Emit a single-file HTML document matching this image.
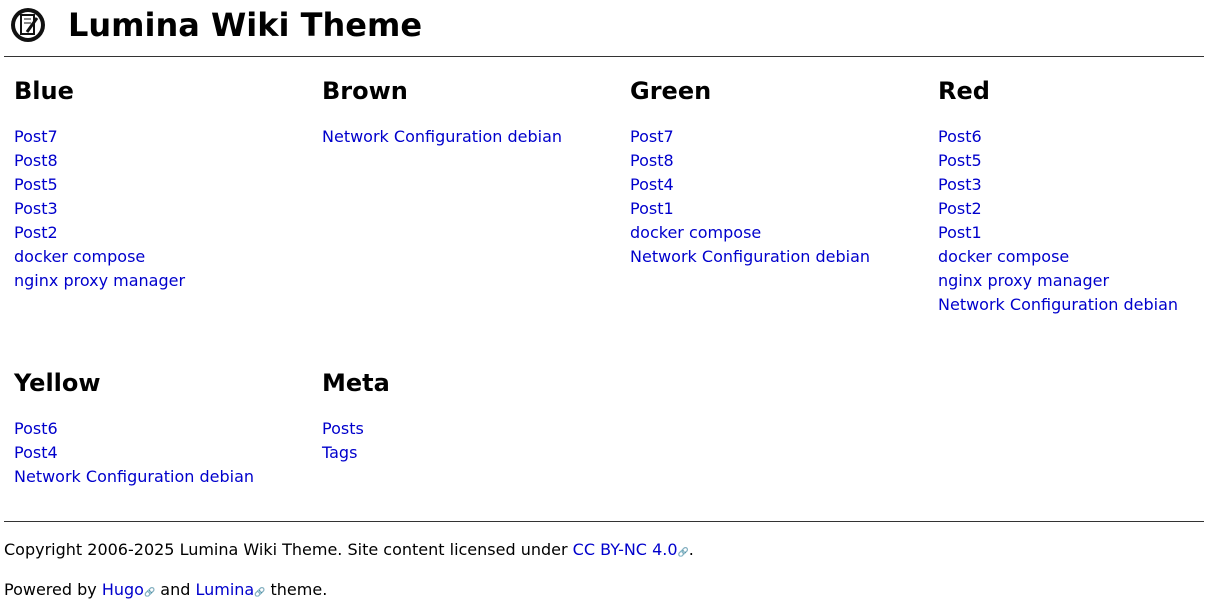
<!DOCTYPE html>
<html><head><meta charset="utf-8"><style>
*{margin:0;padding:0}
body{width:1211px;height:602px;background:#fff;font-family:"DejaVu Sans","Liberation Sans",sans-serif;color:#000;position:relative;overflow:hidden}
.a{position:absolute;white-space:nowrap}
h1{position:absolute;left:68px;top:5px;font-size:32px;font-weight:bold;line-height:40px}
h2{position:absolute;font-size:24px;font-weight:bold;line-height:30px}
.l{position:absolute;font-size:16px;line-height:24px}
a{color:#0000cc;text-decoration:none}
hr{position:absolute;left:4px;width:1200px;border:0;border-top:1px solid #333;height:0}
.f{position:absolute;left:4px;font-size:16px;line-height:20px}
.i{color:#999;font-size:9px}
</style></head><body>
<svg class="a" style="left:9px;top:6px" width="38" height="38" viewBox="0 0 38 38">
<circle cx="19" cy="19" r="17" fill="#111"/><circle cx="19" cy="19" r="13" fill="#fff"/>
<rect x="12" y="9" width="13" height="19" fill="#fff" stroke="#111" stroke-width="2"/>
<line x1="15" y1="13" x2="22" y2="13" stroke="#111"/><line x1="15" y1="17" x2="22" y2="17" stroke="#111"/>
<line x1="18" y1="26" x2="28" y2="12" stroke="#111" stroke-width="3"/>
</svg>
<h1>Lumina Wiki Theme</h1>
<hr style="top:56px">
<h2 style="left:14px;top:76px">Blue</h2>
<h2 style="left:322px;top:76px">Brown</h2>
<h2 style="left:630px;top:76px">Green</h2>
<h2 style="left:938px;top:76px">Red</h2>
<div class="l" style="left:14px;top:125px"><a>Post7</a><br><a>Post8</a><br><a>Post5</a><br><a>Post3</a><br><a>Post2</a><br><a>docker compose</a><br><a>nginx proxy manager</a></div>
<div class="l" style="left:322px;top:125px"><a>Network Configuration debian</a></div>
<div class="l" style="left:630px;top:125px"><a>Post7</a><br><a>Post8</a><br><a>Post4</a><br><a>Post1</a><br><a>docker compose</a><br><a>Network Configuration debian</a></div>
<div class="l" style="left:938px;top:125px"><a>Post6</a><br><a>Post5</a><br><a>Post3</a><br><a>Post2</a><br><a>Post1</a><br><a>docker compose</a><br><a>nginx proxy manager</a><br><a>Network Configuration debian</a></div>
<h2 style="left:14px;top:368px">Yellow</h2>
<h2 style="left:322px;top:368px">Meta</h2>
<div class="l" style="left:14px;top:417px"><a>Post6</a><br><a>Post4</a><br><a>Network Configuration debian</a></div>
<div class="l" style="left:322px;top:417px"><a>Posts</a><br><a>Tags</a></div>
<hr style="top:521px">
<div class="f" style="top:540px">Copyright 2006-2025 Lumina Wiki Theme. Site content licensed under <a>CC BY-NC 4.0</a><span class="i">🔗</span>.</div>
<div class="f" style="top:580px">Powered by <a>Hugo</a><span class="i">🔗</span> and <a>Lumina</a><span class="i">🔗</span> theme.</div>
</body></html>
